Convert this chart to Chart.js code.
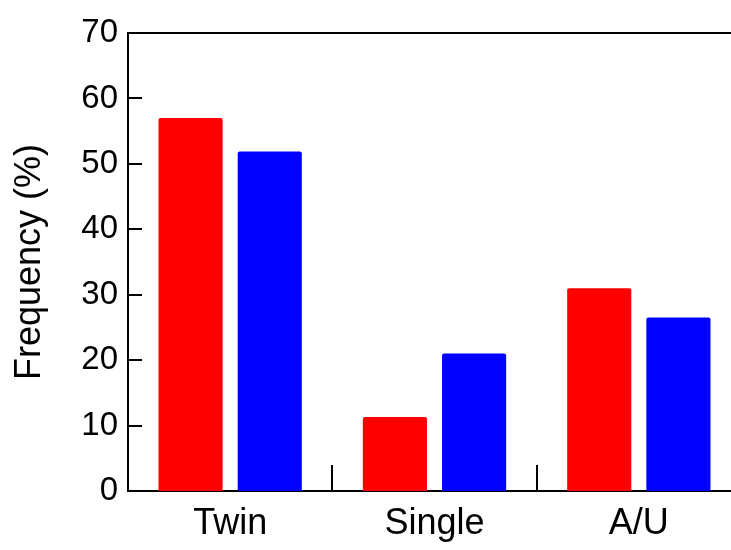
<!DOCTYPE html>
<html>
<head>
<meta charset="utf-8">
<script src="https://cdn.jsdelivr.net/npm/chart.js@4"></script>
<style>
  html, body { margin: 0; padding: 0; background: #fff; overflow: hidden; }
  #wrap { width: 741px; height: 550px; }
</style>
</head>
<body>
<div id="wrap"><canvas id="myChart"></canvas></div>
<script>
const categories = ['Twin', 'Single', 'A/U'];
const redValues = [57.0, 11.3, 31.0];
const blueValues = [51.9, 21.0, 26.5];
const yMin = 0;
const yMax = 70;
const yStep = 10;

const AXIS_COLOR = '#000';
const FONT = 'Liberation Sans, Arial, sans-serif';


// inward ticks, the top frame line and the separators between categories
const frameTicks = {
    id: 'frameTicks',
    afterDatasetsDraw(chart) {
        const ctx = chart.ctx;
        const area = chart.chartArea;
        const x = chart.scales.x;
        const y = chart.scales.y;
        ctx.save();
        ctx.strokeStyle = AXIS_COLOR;
        ctx.lineWidth = 2;
        ctx.beginPath();
        ctx.moveTo(area.left, area.top);
        ctx.lineTo(area.right, area.top);
        for (let v = yMin + yStep; v < yMax; v += yStep) {
            let py = Math.round(y.getPixelForValue(v));
            ctx.moveTo(area.left, py);
            ctx.lineTo(area.left + 14, py);
        }
        for (let i = 0; i < categories.length - 1; i++) {
            let px = Math.round((x.getPixelForValue(i) + x.getPixelForValue(i + 1)) / 2);
            ctx.moveTo(px, area.bottom);
            ctx.lineTo(px, area.bottom - 26);
        }
        ctx.stroke();
        ctx.restore();
    }
};


function drawChart() {
    const ctx = document.getElementById('myChart').getContext('2d');
    new Chart(ctx, {
        type: 'bar',
        data: {
            labels: categories,
            datasets: [{
                data: redValues,
                backgroundColor: '#ff0000',
                borderRadius: 2,
                borderSkipped: 'bottom'
            }, {
                data: blueValues,
                backgroundColor: '#0000ff',
                borderRadius: 2,
                borderSkipped: 'bottom'
            }]
        },
        options: {
            responsive: true,
            maintainAspectRatio: false,
            animation: false,
            layout: { padding: { top: 33, right: 0, left: 0, bottom: 0 } },
            categoryPercentage: 0.775,
            barPercentage: 0.81,
            plugins: {
                legend: { display: false },
                tooltip: { enabled: false }
            },
            scales: {
                x: {
                    grid: { display: false, drawTicks: false },
                    border: { display: true, color: AXIS_COLOR, width: 2 },
                    ticks: {
                        color: '#000',
                        font: { family: FONT, size: 36 },
                        padding: 11
                    },
                    afterFit(scale) { scale.height = 59; }
                },
                y: {
                    min: yMin,
                    max: yMax,
                    grid: { display: false, drawTicks: false },
                    border: { display: true, color: AXIS_COLOR, width: 2 },
                    ticks: {
                        stepSize: yStep,
                        color: '#000',
                        font: { family: FONT, size: 33 },
                        padding: 10
                    },
                    title: {
                        display: true,
                        text: 'Frequency (%)',
                        color: '#000',
                        font: { family: FONT, size: 36 },
                        padding: { top: 8, bottom: 0 }
                    },
                    afterFit(scale) { scale.width = 128; }
                }
            }
        },
        plugins: [frameTicks]
    });
}

drawChart();
</script>
</body>
</html>
